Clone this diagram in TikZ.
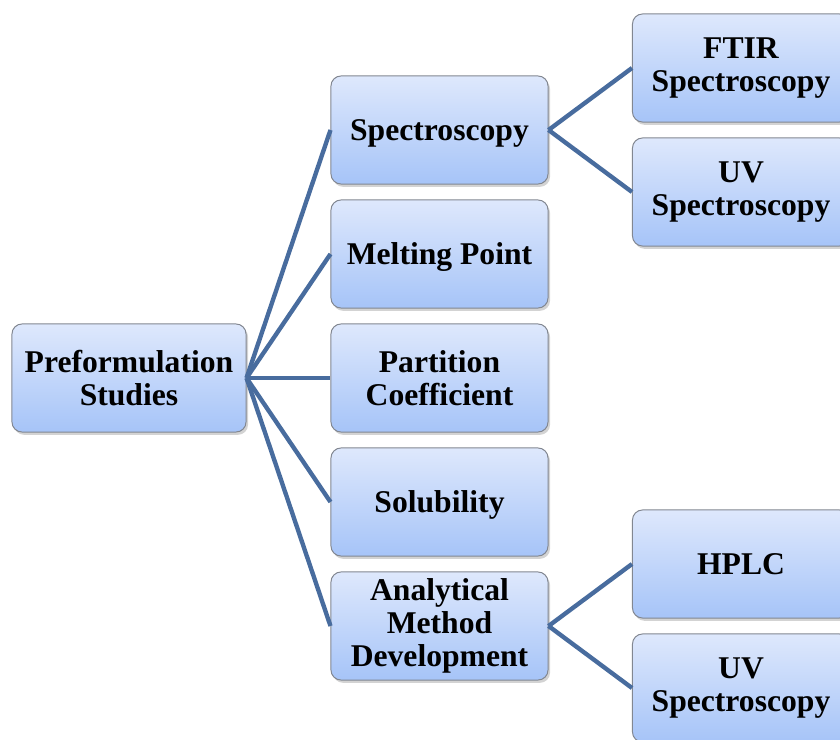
\documentclass[tikz,border=0pt]{standalone}
\usepackage{fontspec}
\setmainfont{Liberation Serif}
\usepackage{tikz}
\usetikzlibrary{shadows}
\definecolor{boxtop}{RGB}{222,232,252}
\definecolor{boxbottom}{RGB}{166,196,248}
\definecolor{boxedge}{RGB}{130,135,145}
\definecolor{linkblue}{RGB}{72,108,158}

\tikzset{
  studybox/.style={draw=boxedge, line width=0.7pt, rounded corners=0.25cm,
    top color=boxtop, bottom color=boxbottom,
    drop shadow={shadow xshift=0.05cm, shadow yshift=-0.07cm, opacity=0.35},
    minimum width=5.425cm, minimum height=2.7cm, inner sep=0pt,
    align=center, font=\fontsize{22.5}{23.5}\selectfont\bfseries},
  oneline/.style={text depth=0pt},
  link/.style={draw=linkblue, line width=3.1pt}
}

\begin{document}
\begin{tikzpicture}[x=0.025cm,y=-0.025cm]
		\useasboundingbox (0,0) rectangle (840,740);
		\clip (0,0) rectangle (840,740);
		% root
		\node[studybox, minimum width=5.85cm] (pre) at (129,378) {Preformulation\\Studies};
		
		% middle column
		\node[studybox, oneline] (spec) at (439.5,130) {Spectroscopy};
		\node[studybox, oneline] (melt) at (439.5,254) {Melting Point};
		\node[studybox] (part) at (439.5,378) {Partition\\Coefficient};
		\node[studybox, oneline] (solu) at (439.5,502) {Solubility};
		\node[studybox] (anal) at (439.5,626) {Analytical\\Method\\Development};
		
		% right column
		\node[studybox] (ftir) at (741,68) {FTIR\\Spectroscopy};
		\node[studybox] (uvs) at (741,192) {UV\\Spectroscopy};
		\node[studybox, oneline] (hplc) at (741,564) {HPLC};
		\node[studybox] (uva) at (741,688) {UV\\Spectroscopy};
		
		\foreach \m in {spec,melt,part,solu,anal}
			\draw[link] (pre.east) -- (\m.west);
		\draw[link] (spec.east) -- (ftir.west);
		\draw[link] (spec.east) -- (uvs.west);
		\draw[link] (anal.east) -- (hplc.west);
		\draw[link] (anal.east) -- (uva.west);
		\end{tikzpicture}
\end{document}
